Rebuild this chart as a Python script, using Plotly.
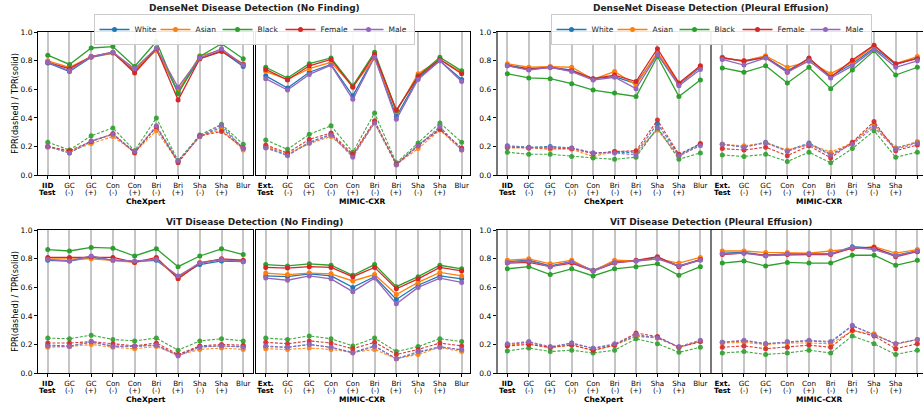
import plotly.graph_objects as go

GROUPS = ["White", "Asian", "Black", "Female", "Male"]
COLORS = ["#1f77b4", "#ff7f0e", "#2ca02c", "#d62728", "#9467bd"]

# tick labels: first line / second line
CHEX_TICKS_1 = ["<b>IID</b>", "GC", "GC", "Con", "Con", "Bri", "Bri", "Sha", "Sha", "Blur"]
MIMIC_TICKS_1 = ["<b>Ext.</b>", "GC", "GC", "Con", "Con", "Bri", "Bri", "Sha", "Sha", "Blur"]
TICKS_2 = ["<b>Test</b>", "(-)", "(+)", "(-)", "(+)", "(-)", "(+)", "(-)", "(+)", ""]

PANEL_TITLES = ["DenseNet Disease Detection (No Finding)", "DenseNet Disease Detection (Pleural Effusion)",
                "ViT Disease Detection (No Finding)", "ViT Disease Detection (Pleural Effusion)"]
SUB_TITLES = ["CheXpert", "MIMIC-CXR"]
Y_TITLE = "FPR(dashed) / TPR(solid)"

# ---------------- DenseNet, No Finding ----------------
dn_nf_chex_tpr = {
    "White":  [0.785, 0.725, 0.825, 0.855, 0.730, 0.880, 0.580, 0.815, 0.870, 0.760],
    "Asian":  [0.800, 0.755, 0.830, 0.855, 0.740, 0.875, 0.590, 0.835, 0.875, 0.780],
    "Black":  [0.840, 0.775, 0.890, 0.900, 0.760, 0.935, 0.570, 0.830, 0.920, 0.815],
    "Female": [0.790, 0.745, 0.830, 0.860, 0.715, 0.885, 0.525, 0.815, 0.865, 0.775],
    "Male":   [0.790, 0.730, 0.830, 0.860, 0.745, 0.890, 0.615, 0.820, 0.885, 0.770],
}
dn_nf_chex_fpr = {
    "White":  [0.200, 0.155, 0.235, 0.285, 0.160, 0.335, 0.095, 0.270, 0.335, 0.185],
    "Asian":  [0.195, 0.165, 0.220, 0.270, 0.160, 0.310, 0.095, 0.270, 0.320, 0.175],
    "Black":  [0.230, 0.175, 0.275, 0.330, 0.170, 0.400, 0.100, 0.280, 0.355, 0.215],
    "Female": [0.200, 0.170, 0.235, 0.290, 0.155, 0.340, 0.085, 0.275, 0.305, 0.190],
    "Male":   [0.200, 0.155, 0.240, 0.285, 0.165, 0.345, 0.100, 0.270, 0.350, 0.185],
}
dn_nf_mimic_tpr = {
    "White":  [0.695, 0.610, 0.720, 0.775, 0.555, 0.830, 0.410, 0.680, 0.800, 0.670],
    "Asian":  [0.725, 0.670, 0.745, 0.790, 0.620, 0.820, 0.445, 0.710, 0.810, 0.720],
    "Black":  [0.755, 0.680, 0.780, 0.820, 0.625, 0.860, 0.450, 0.695, 0.825, 0.730],
    "Female": [0.740, 0.665, 0.765, 0.810, 0.615, 0.845, 0.455, 0.690, 0.810, 0.710],
    "Male":   [0.675, 0.595, 0.705, 0.770, 0.530, 0.825, 0.390, 0.670, 0.800, 0.655],
}
dn_nf_mimic_fpr = {
    "White":  [0.195, 0.140, 0.230, 0.285, 0.135, 0.370, 0.075, 0.210, 0.325, 0.180],
    "Asian":  [0.200, 0.150, 0.220, 0.270, 0.140, 0.370, 0.075, 0.185, 0.315, 0.175],
    "Black":  [0.245, 0.180, 0.285, 0.345, 0.160, 0.435, 0.085, 0.225, 0.365, 0.230],
    "Female": [0.210, 0.155, 0.250, 0.295, 0.145, 0.380, 0.075, 0.205, 0.320, 0.190],
    "Male":   [0.190, 0.135, 0.225, 0.280, 0.125, 0.365, 0.070, 0.205, 0.340, 0.175],
}

# ---------------- DenseNet, Pleural Effusion ----------------
dn_pe_chex_tpr = {
    "White":  [0.770, 0.745, 0.755, 0.735, 0.675, 0.690, 0.640, 0.850, 0.635, 0.755],
    "Asian":  [0.780, 0.755, 0.760, 0.755, 0.670, 0.725, 0.630, 0.860, 0.640, 0.760],
    "Black":  [0.710, 0.680, 0.675, 0.640, 0.595, 0.575, 0.550, 0.830, 0.550, 0.665],
    "Female": [0.765, 0.740, 0.755, 0.730, 0.675, 0.700, 0.655, 0.885, 0.645, 0.765],
    "Male":   [0.765, 0.735, 0.755, 0.725, 0.665, 0.685, 0.605, 0.845, 0.625, 0.740],
}
dn_pe_chex_fpr = {
    "White":  [0.205, 0.195, 0.200, 0.190, 0.155, 0.160, 0.155, 0.360, 0.140, 0.215],
    "Asian":  [0.190, 0.190, 0.180, 0.180, 0.130, 0.165, 0.165, 0.315, 0.130, 0.215],
    "Black":  [0.160, 0.145, 0.145, 0.130, 0.120, 0.110, 0.125, 0.330, 0.110, 0.155],
    "Female": [0.195, 0.190, 0.190, 0.185, 0.150, 0.165, 0.170, 0.385, 0.145, 0.220],
    "Male":   [0.200, 0.190, 0.195, 0.190, 0.155, 0.155, 0.140, 0.330, 0.135, 0.205],
}
dn_pe_mimic_tpr = {
    "White":  [0.825, 0.795, 0.825, 0.730, 0.815, 0.690, 0.780, 0.890, 0.775, 0.820],
    "Asian":  [0.820, 0.800, 0.835, 0.755, 0.795, 0.710, 0.790, 0.905, 0.780, 0.830],
    "Black":  [0.750, 0.720, 0.765, 0.645, 0.755, 0.605, 0.735, 0.870, 0.700, 0.755],
    "Female": [0.820, 0.800, 0.825, 0.720, 0.820, 0.685, 0.805, 0.910, 0.780, 0.815],
    "Male":   [0.810, 0.770, 0.820, 0.720, 0.800, 0.680, 0.765, 0.880, 0.755, 0.800],
}
dn_pe_mimic_fpr = {
    "White":  [0.215, 0.195, 0.230, 0.170, 0.225, 0.145, 0.225, 0.355, 0.190, 0.230],
    "Asian":  [0.215, 0.205, 0.225, 0.175, 0.215, 0.160, 0.225, 0.350, 0.185, 0.235],
    "Black":  [0.140, 0.130, 0.145, 0.095, 0.160, 0.085, 0.185, 0.310, 0.125, 0.160],
    "Female": [0.185, 0.175, 0.195, 0.135, 0.205, 0.120, 0.230, 0.375, 0.170, 0.210],
    "Male":   [0.215, 0.195, 0.225, 0.165, 0.215, 0.140, 0.215, 0.335, 0.180, 0.225],
}

# ---------------- ViT, No Finding ----------------
vit_nf_chex_tpr = {
    "White":  [0.790, 0.785, 0.810, 0.790, 0.780, 0.790, 0.675, 0.760, 0.785, 0.780],
    "Asian":  [0.800, 0.800, 0.800, 0.790, 0.775, 0.800, 0.665, 0.775, 0.795, 0.785],
    "Black":  [0.865, 0.855, 0.880, 0.875, 0.820, 0.870, 0.745, 0.820, 0.870, 0.830],
    "Female": [0.810, 0.810, 0.815, 0.810, 0.775, 0.810, 0.660, 0.770, 0.800, 0.790],
    "Male":   [0.795, 0.785, 0.820, 0.790, 0.785, 0.795, 0.680, 0.770, 0.795, 0.780],
}
vit_nf_chex_fpr = {
    "White":  [0.195, 0.190, 0.215, 0.190, 0.185, 0.195, 0.125, 0.185, 0.190, 0.185],
    "Asian":  [0.180, 0.185, 0.200, 0.180, 0.170, 0.185, 0.125, 0.165, 0.175, 0.165],
    "Black":  [0.245, 0.240, 0.265, 0.235, 0.225, 0.245, 0.160, 0.225, 0.240, 0.225],
    "Female": [0.210, 0.210, 0.220, 0.205, 0.190, 0.210, 0.130, 0.190, 0.200, 0.195],
    "Male":   [0.190, 0.185, 0.220, 0.185, 0.190, 0.195, 0.120, 0.180, 0.190, 0.180],
}
vit_nf_mimic_tpr = {
    "White":  [0.680, 0.675, 0.695, 0.680, 0.600, 0.675, 0.515, 0.615, 0.680, 0.660],
    "Asian":  [0.700, 0.690, 0.700, 0.695, 0.645, 0.690, 0.550, 0.635, 0.705, 0.680],
    "Black":  [0.760, 0.750, 0.765, 0.755, 0.685, 0.760, 0.605, 0.675, 0.755, 0.730],
    "Female": [0.740, 0.735, 0.745, 0.740, 0.675, 0.740, 0.590, 0.660, 0.740, 0.715],
    "Male":   [0.665, 0.650, 0.680, 0.660, 0.570, 0.665, 0.485, 0.600, 0.665, 0.635],
}
vit_nf_mimic_fpr = {
    "White":  [0.185, 0.180, 0.200, 0.180, 0.145, 0.190, 0.100, 0.145, 0.185, 0.160],
    "Asian":  [0.170, 0.165, 0.175, 0.165, 0.145, 0.165, 0.100, 0.130, 0.180, 0.150],
    "Black":  [0.245, 0.235, 0.260, 0.240, 0.190, 0.245, 0.150, 0.185, 0.240, 0.220],
    "Female": [0.215, 0.205, 0.225, 0.210, 0.170, 0.215, 0.130, 0.165, 0.210, 0.190],
    "Male":   [0.190, 0.180, 0.200, 0.180, 0.140, 0.185, 0.100, 0.150, 0.180, 0.165],
}

# ---------------- ViT, Pleural Effusion ----------------
vit_pe_chex_tpr = {
    "White":  [0.780, 0.790, 0.750, 0.780, 0.720, 0.780, 0.785, 0.810, 0.750, 0.795],
    "Asian":  [0.790, 0.800, 0.765, 0.790, 0.715, 0.790, 0.785, 0.800, 0.770, 0.810],
    "Black":  [0.730, 0.745, 0.690, 0.730, 0.680, 0.730, 0.745, 0.765, 0.685, 0.745],
    "Female": [0.770, 0.775, 0.745, 0.770, 0.715, 0.770, 0.790, 0.815, 0.745, 0.795],
    "Male":   [0.775, 0.785, 0.745, 0.780, 0.715, 0.775, 0.785, 0.800, 0.750, 0.790],
}
vit_pe_chex_fpr = {
    "White":  [0.200, 0.215, 0.180, 0.210, 0.170, 0.200, 0.260, 0.250, 0.180, 0.225],
    "Asian":  [0.195, 0.205, 0.175, 0.200, 0.155, 0.195, 0.255, 0.245, 0.180, 0.220],
    "Black":  [0.155, 0.175, 0.150, 0.160, 0.140, 0.160, 0.240, 0.205, 0.145, 0.180],
    "Female": [0.190, 0.200, 0.180, 0.195, 0.160, 0.195, 0.280, 0.255, 0.180, 0.220],
    "Male":   [0.205, 0.220, 0.185, 0.210, 0.175, 0.205, 0.270, 0.245, 0.185, 0.230],
}
vit_pe_mimic_tpr = {
    "White":  [0.840, 0.845, 0.825, 0.835, 0.835, 0.835, 0.885, 0.875, 0.825, 0.855],
    "Asian":  [0.855, 0.855, 0.845, 0.845, 0.840, 0.855, 0.870, 0.885, 0.840, 0.865],
    "Black":  [0.770, 0.785, 0.750, 0.775, 0.770, 0.770, 0.825, 0.825, 0.755, 0.790],
    "Female": [0.830, 0.840, 0.825, 0.830, 0.830, 0.830, 0.875, 0.880, 0.815, 0.850],
    "Male":   [0.835, 0.840, 0.820, 0.835, 0.835, 0.835, 0.880, 0.865, 0.820, 0.855],
}
vit_pe_mimic_fpr = {
    "White":  [0.215, 0.225, 0.205, 0.215, 0.225, 0.215, 0.330, 0.270, 0.205, 0.235],
    "Asian":  [0.210, 0.215, 0.200, 0.210, 0.210, 0.205, 0.295, 0.275, 0.200, 0.235],
    "Black":  [0.140, 0.150, 0.130, 0.140, 0.160, 0.140, 0.260, 0.205, 0.130, 0.160],
    "Female": [0.180, 0.190, 0.170, 0.180, 0.195, 0.180, 0.300, 0.260, 0.170, 0.205],
    "Male":   [0.215, 0.230, 0.205, 0.220, 0.230, 0.220, 0.335, 0.265, 0.205, 0.235],
}

# order of subplots: (tpr, fpr, first-line ticks)
SUBPLOTS = [
    (dn_nf_chex_tpr, dn_nf_chex_fpr, CHEX_TICKS_1), (dn_nf_mimic_tpr, dn_nf_mimic_fpr, MIMIC_TICKS_1),
    (dn_pe_chex_tpr, dn_pe_chex_fpr, CHEX_TICKS_1), (dn_pe_mimic_tpr, dn_pe_mimic_fpr, MIMIC_TICKS_1),
    (vit_nf_chex_tpr, vit_nf_chex_fpr, CHEX_TICKS_1), (vit_nf_mimic_tpr, vit_nf_mimic_fpr, MIMIC_TICKS_1),
    (vit_pe_chex_tpr, vit_pe_chex_fpr, CHEX_TICKS_1), (vit_pe_mimic_tpr, vit_pe_mimic_fpr, MIMIC_TICKS_1),
]

W, H = 923, 407
FONT = "DejaVu Sans"
TICK_SIZE = 7.2


def px(x):
    return x / W


def py(y):
    return 1 - y / H


# layout geometry (pixels)
XDOM = [(38, 253), (255.5, 469.7), (497.7, 710), (712, 923)]
XRANGE = [(-0.45, 9.45), (-0.47, 9.37), (-0.45, 9.45), (-0.475, 9.26)]
YDOM = [(175, 32.3), (373, 230.3)]
LEGEND_W = {"White": 16, "Asian": 17, "Black": 18, "Female": 23, "Male": 20}

fig = go.Figure()
layout = {}
annotations = []
x_idx = list(range(10))

for k, (tpr, fpr, ticks) in enumerate(SUBPLOTS):
    row = k // 4
    col = k % 4
    n = k + 1
    xa = "x" if n == 1 else f"x{n}"
    ya = "y" if n == 1 else f"y{n}"
    right_panel = col >= 2
    first_sub = col in (0, 2)
    for g, c in zip(GROUPS, COLORS):
        fig.add_trace(go.Scatter(
            x=x_idx, y=fpr[g], xaxis=xa, yaxis=ya, mode="lines+markers",
            line=dict(color=c, width=1.1, dash="3px,1.6px"),
            marker=dict(color=c, size=5), opacity=0.9,
            showlegend=False, name=g))
    for g, c in zip(GROUPS, COLORS):
        show = (k == 0 or k == 2)
        fig.add_trace(go.Scatter(
            x=x_idx, y=tpr[g], xaxis=xa, yaxis=ya, mode="lines+markers",
            line=dict(color=c, width=1.3), marker=dict(color=c, size=5),
            showlegend=show, name=g, legendwidth=LEGEND_W[g],
            legend=("legend" if k == 0 else "legend2") if show else "legend"))
    xd = XDOM[col]
    yd = YDOM[row]
    xkey = "xaxis" if n == 1 else f"xaxis{n}"
    ykey = "yaxis" if n == 1 else f"yaxis{n}"
    layout[xkey] = dict(
        domain=[px(xd[0]), min(1.0, px(xd[1]))], anchor=ya, range=list(XRANGE[col]),
        tickmode="array", tickvals=x_idx, ticktext=ticks,
        ticks="outside", ticklen=3, tickwidth=0.8, tickcolor="black",
        tickfont=dict(family=FONT, size=TICK_SIZE, color="black"),
        showgrid=True, gridcolor="rgba(150,150,150,0.55)", gridwidth=1.6,
        zeroline=False, showline=True, mirror=True, linecolor="black", linewidth=1,
        fixedrange=True, automargin=False)
    layout[ykey] = dict(
        domain=[py(yd[0]), py(yd[1])], anchor=xa, range=[0, 1.0],
        tickmode="array", tickvals=[0, 0.2, 0.4, 0.6, 0.8, 1.0],
        ticktext=["0.0", "0.2", "0.4", "0.6", "0.8", "1.0"],
        showticklabels=first_sub, ticks="outside" if first_sub else "", ticklen=3,
        tickwidth=0.8, tickcolor="black",
        tickfont=dict(family=FONT, size=7.5, color="black"),
        showgrid=False, zeroline=False, showline=True, mirror=True,
        linecolor="#777777" if right_panel else "black",
        linewidth=2 if right_panel else 1,
        fixedrange=True, automargin=False)
    # second line of the tick labels
    for xi, t2 in zip(x_idx, TICKS_2):
        if not t2:
            continue
        annotations.append(dict(text=t2, x=xi, y=py(yd[0] + 17.0), xref=xa, yref="paper",
                                xanchor="center", yanchor="middle", showarrow=False,
                                font=dict(family=FONT, size=TICK_SIZE, color="black")))

# panel titles
centers = [254, 711]
for i, t in enumerate(PANEL_TITLES):
    r, c = divmod(i, 2)
    ty = 8 if r == 0 else 222
    annotations.append(dict(text=f"<b>{t}</b>", x=px(centers[c]), y=py(ty), xref="paper", yref="paper",
                            xanchor="center", yanchor="middle", showarrow=False,
                            font=dict(family=FONT, size=9, color="#222")))
# sub x-axis titles
for r in range(2):
    ty = YDOM[r][0] + 26.8
    for col in range(4):
        xd = XDOM[col]
        cx = (xd[0] + (xd[1] if col != 3 else 927.5)) / 2
        annotations.append(dict(text=f"<b>{SUB_TITLES[col % 2]}</b>", x=px(cx), y=py(ty),
                                xref="paper", yref="paper", xanchor="center", yanchor="middle",
                                showarrow=False, font=dict(family=FONT, size=7.5, color="black")))
# y titles
for r in range(2):
    cy = (YDOM[r][0] + YDOM[r][1]) / 2
    annotations.append(dict(text=Y_TITLE, x=px(15), y=py(cy), xref="paper", yref="paper",
                            xanchor="center", yanchor="middle", textangle=-90, showarrow=False,
                            font=dict(family=FONT, size=8.2, color="black")))

legend_common = dict(orientation="h", xanchor="center", yanchor="top", y=py(14),
                     bgcolor="rgba(255,255,255,0.9)", bordercolor="#cccccc", borderwidth=1,
                     font=dict(family=FONT, size=7.5, color="#222"), itemwidth=30,
                     tracegroupgap=0)

fig.update_layout(
    width=W, height=H, margin=dict(l=0, r=0, t=0, b=0),
    paper_bgcolor="white", plot_bgcolor="white",
    font=dict(family=FONT, size=8, color="black"),
    annotations=annotations,
    legend=dict(x=px(254), **legend_common),
    legend2=dict(x=px(711), **legend_common),
    **layout,
)

fig.write_html("out.html", config={"displayModeBar": False},
               post_script="document.body.style.margin='0px';")
